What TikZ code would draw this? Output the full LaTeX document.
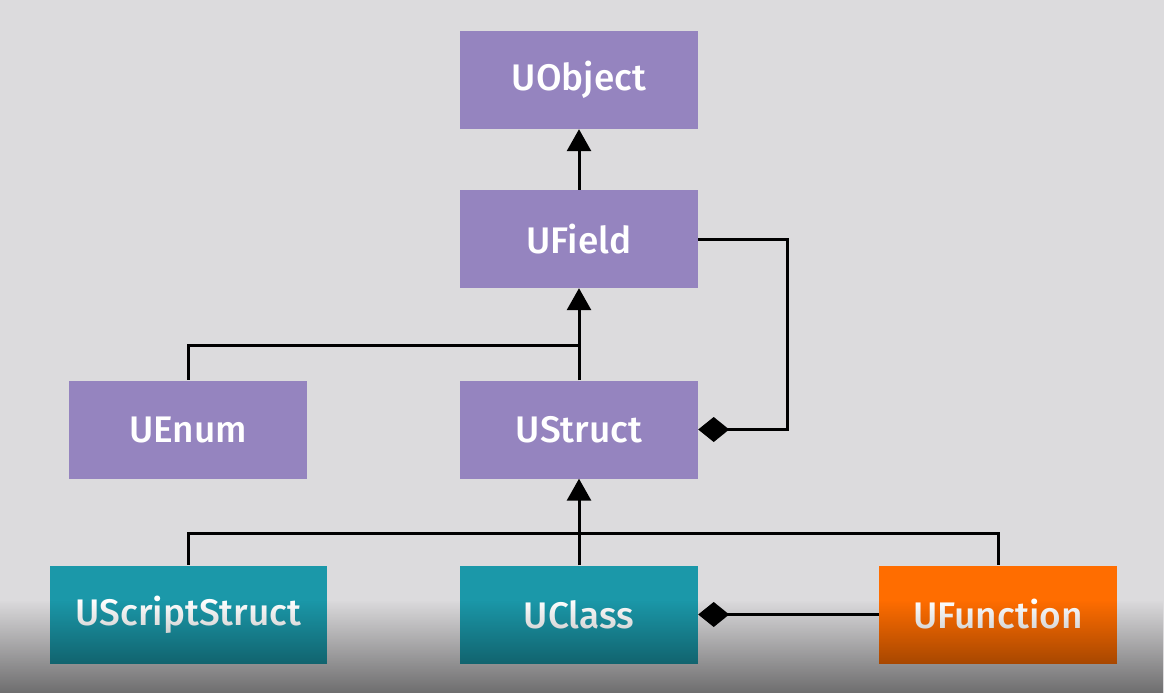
\documentclass[tikz,border=0pt]{standalone}
\usepackage{fontspec}
\setmainfont{Fira Sans}[BoldFont={Fira Sans Medium}]
\usetikzlibrary{arrows.meta,fadings}
\definecolor{bgc}{HTML}{DCDBDD}
\definecolor{purp}{HTML}{9584BF}
\definecolor{teal}{HTML}{1B98A9}
\definecolor{orng}{HTML}{FF6D00}
\tikzset{
  box/.style={minimum width=238pt, minimum height=98pt, inner sep=0pt, text=white,
    font=\fontsize{37}{42}\selectfont\bfseries, anchor=center},
  pbox/.style={box, fill=purp},
  tbox/.style={box, fill=teal},
  obox/.style={box, fill=orng},
  conn/.style={line width=3pt, black},
  inh/.style={conn, -{Triangle[width=24pt,length=22pt]}},
  comp/.style={conn, -{Diamond[width=25pt,length=31pt]}},
}
\begin{document}
\begin{tikzpicture}[x=1pt,y=-1pt]
\fill[bgc] (0,0) rectangle (1164,693);
\useasboundingbox (0,0) rectangle (1164,693);
\node[pbox] (uobject) at (579,80) {UObject};
\node[pbox] (ufield) at (579,239) {UField};
\node[pbox] (ustruct) at (579,429.5) {UStruct};
\node[pbox] (uenum) at (188,429.5) {UEnum};
\node[tbox, minimum width=277pt] (uscript) at (188.5,614.5) {UScriptStruct};
\node[tbox] (uclass) at (579,614.5) {UClass};
\node[obox] (ufunc) at (998,614.5) {UFunction};
\coordinate (j1) at (579,345);
\coordinate (j2) at (579,533);
\draw[inh] (ufield.north) -- (uobject.south);
\draw[inh] (ustruct.north) -- (ufield.south);
\draw[conn] (j1) -| (uenum.north);
\draw[inh] (uclass.north) -- (ustruct.south);
\draw[conn] (j2) -| (uscript.north);
\draw[conn] (j2) -| (ufunc.north);
\draw[comp] (ufield.east) -| (787,429.5) -- (ustruct.east);
\draw[comp] (ufunc.west) -- (uclass.east);
\fill[black, opacity=0.5, path fading=north] (0,600) rectangle (1164,693);
\end{tikzpicture}
\end{document}
